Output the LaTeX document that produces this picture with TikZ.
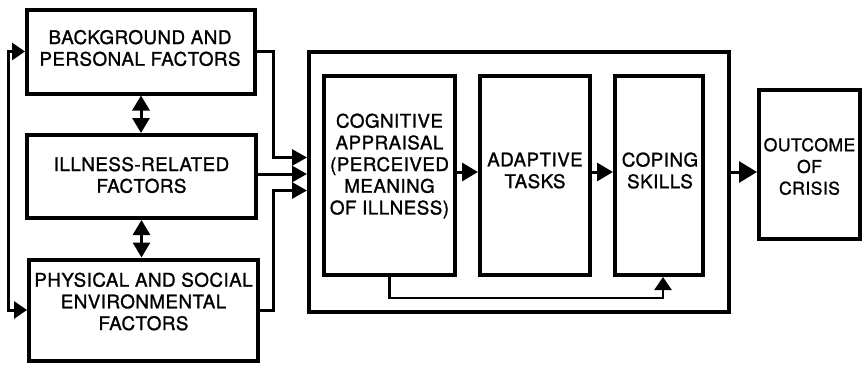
\documentclass[tikz,border=0pt]{standalone}
\usepackage{fontspec}
\setmainfont{TeX Gyre Heros}
\newfontfamily\lblfont{TeX Gyre Heros}[LetterSpace=2.5,FakeBold=1.2]
\usetikzlibrary{arrows.meta,calc}
\begin{document}
\begin{tikzpicture}[x=1pt,y=-1pt,
  box/.style={draw, line width=4pt, inner sep=0pt, outer sep=0pt},
  lbl/.style={align=center, inner sep=0pt, font=\lblfont\fontsize{18.8}{21.7}\selectfont},
  conn/.style={line width=3pt},
  fb/.style={line width=2.5pt},
  tipin/.style={-{Triangle[length=15pt,width=16pt]}, shorten >=2pt},
  tipmid/.style={-{Triangle[length=16pt,width=18pt]}, shorten >=2pt},
  tipbig/.style={-{Triangle[length=18pt,width=21pt]}, shorten >=2pt},
  tipfb/.style={-{Triangle[length=13pt,width=17pt]}, shorten >=2pt},
  dblarrow/.style={{Triangle[length=15pt,width=17pt]}-{Triangle[length=15pt,width=17pt]}, shorten >=2pt, shorten <=2pt},
  brk/.style={{Triangle[length=13pt,width=17pt]}-{Triangle[length=13pt,width=17pt]}, shorten >=2pt, shorten <=2pt}
]
\useasboundingbox (0,0) rectangle (864,367);

% boxes
\node[box, minimum width=228pt, minimum height=84pt]  (bg)   at (141,51.5) {};
\node[box, minimum width=229pt, minimum height=83pt]  (ill)  at (141.5,176.5) {};
\node[box, minimum width=229pt, minimum height=101pt] (phy)  at (143.5,310) {};
\node[box, minimum width=420pt, minimum height=260pt] (core) at (519,182) {};
\node[box, minimum width=131pt, minimum height=199pt] (cog)  at (389.5,175.5) {};
\node[box, minimum width=110pt, minimum height=199pt] (ada)  at (535,175.5) {};
\node[box, minimum width=88pt,  minimum height=199pt] (cop)  at (659,175.5) {};
\node[box, minimum width=101pt, minimum height=149pt] (out)  at (809.5,164.5) {};

% labels
\node[lbl] (bgT)  at (140,48)      {BACKGROUND AND\\PERSONAL FACTORS};
\node[lbl] (illT) at (141.5,175)   {ILLNESS-RELATED\\FACTORS};
\node[lbl] (phyT) at (143.5,301.5) {PHYSICAL AND SOCIAL\\ENVIRONMENTAL\\FACTORS};
\node[lbl] (cogT) at (389.5,166)   {COGNITIVE\\APPRAISAL\\(PERCEIVED\\MEANING\\OF ILLNESS)};
\node[lbl] (adaT) at (535,170.5)   {ADAPTIVE\\TASKS};
\node[lbl] (copT) at (660,170.5)   {COPING\\SKILLS};
\node[lbl, font=\lblfont\fontsize{17.6}{21.7}\selectfont] (outT) at (809.5,166.5) {OUTCOME\\OF\\CRISIS};

% reference rows
\coordinate (row) at (0,172);
\coordinate (ya)  at (0,157.5);
\coordinate (yb)  at (0,174);
\coordinate (yc)  at (0,190.5);

% left bracket
\draw[conn,brk] (bg.west) -- ++(-19,0) |- (phy.west);
% double arrows
\draw[conn,dblarrow] (bg.south) -- (bg.south |- ill.north);
\draw[conn,dblarrow] (ill.south) -- (ill.south |- phy.north);
% into core
\draw[conn,tipin] (bg.east) -- ++(18,0) |- (core.west |- ya);
\draw[conn,tipin] (ill.east |- yb) -- (core.west |- yb);
\draw[conn,tipin] (phy.east) -- ++(15,0) |- (core.west |- yc);
% chain
\draw[conn,tipmid] (cog.east |- row) -- (ada.west |- row);
\draw[conn,tipmid] (ada.east |- row) -- (cop.west |- row);
\draw[conn,tipbig] (core.east |- row) -- (out.west |- row);
% feedback
\draw[fb,tipfb] (cog.south) -- ++(0,23) -| ($(cop.south)+(4,0)$);
\end{tikzpicture}
\end{document}
